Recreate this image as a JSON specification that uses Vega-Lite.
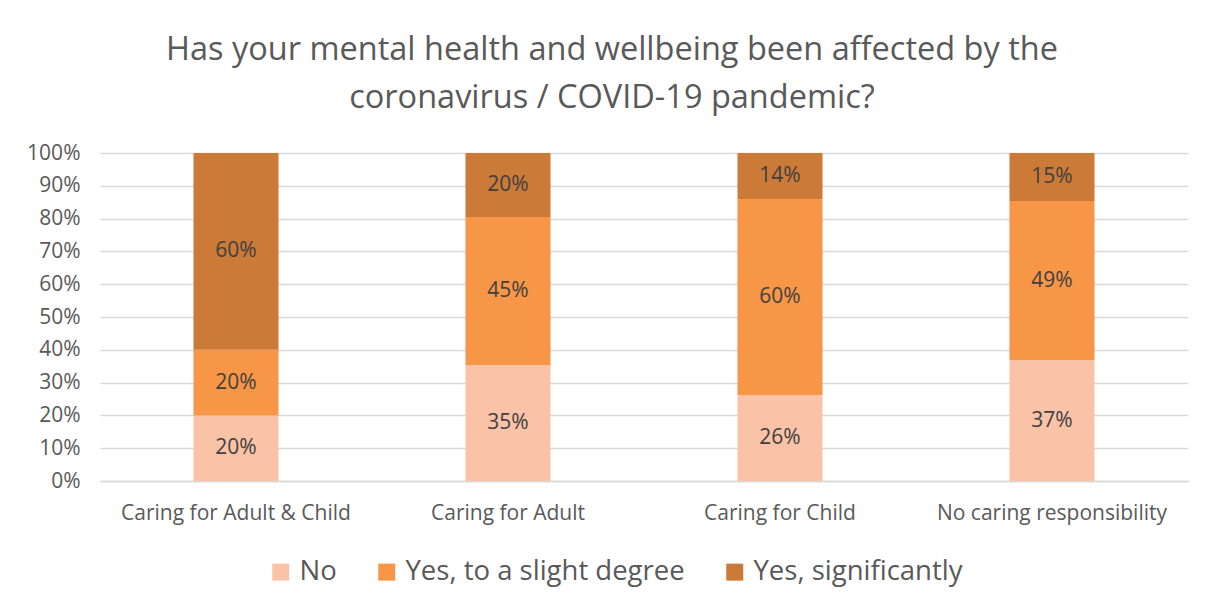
{
  "$schema": "https://vega.github.io/schema/vega-lite/v6.json",
  "width": 1088,
  "height": 328,
  "autosize": {"type": "none"},
  "padding": {"left": 100, "top": 153, "right": 25, "bottom": 129},
  "background": "white",
  "config": {"view": {"stroke": null}, "font": "Open Sans"},
  "title": {
    "text": ["Has your mental health and wellbeing been affected by the", "coronavirus / COVID-19 pandemic?"],
    "fontSize": 32.5,
    "font": "Open Sans",
    "fontWeight": "normal",
    "color": "#595959",
    "anchor": "middle",
    "dx": -32,
    "offset": 28,
    "lineHeight": 48
  },
  "data": {
    "values": [
      {"cat": "Caring for Adult & Child", "answer": "No", "rank": 1, "v": 0.20},
      {"cat": "Caring for Adult & Child", "answer": "Yes, to a slight degree", "rank": 2, "v": 0.20},
      {"cat": "Caring for Adult & Child", "answer": "Yes, significantly", "rank": 3, "v": 0.60},
      {"cat": "Caring for Adult", "answer": "No", "rank": 1, "v": 0.354},
      {"cat": "Caring for Adult", "answer": "Yes, to a slight degree", "rank": 2, "v": 0.451},
      {"cat": "Caring for Adult", "answer": "Yes, significantly", "rank": 3, "v": 0.195},
      {"cat": "Caring for Child", "answer": "No", "rank": 1, "v": 0.262},
      {"cat": "Caring for Child", "answer": "Yes, to a slight degree", "rank": 2, "v": 0.598},
      {"cat": "Caring for Child", "answer": "Yes, significantly", "rank": 3, "v": 0.140},
      {"cat": "No caring responsibility", "answer": "No", "rank": 1, "v": 0.368},
      {"cat": "No caring responsibility", "answer": "Yes, to a slight degree", "rank": 2, "v": 0.486},
      {"cat": "No caring responsibility", "answer": "Yes, significantly", "rank": 3, "v": 0.146}
    ]
  },
  "transform": [
    {"stack": "v", "groupby": ["cat"], "sort": [{"field": "rank", "order": "ascending"}], "as": ["v0", "v1"]}
  ],
  "encoding": {
    "x": {
      "field": "cat",
      "type": "nominal",
      "sort": ["Caring for Adult & Child", "Caring for Adult", "Caring for Child", "No caring responsibility"],
      "scale": {"paddingInner": 0.6875, "paddingOuter": 0.34375},
      "axis": {
        "title": null,
        "labelAngle": 0,
        "labelFontSize": 21,
        "labelColor": "#595959",
        "labelPadding": 21,
        "labelLimit": 400,
        "ticks": false,
        "domain": true,
        "domainColor": "#d9d9d9",
        "domainWidth": 1.5,
        "labelFont": "Open Sans"
      }
    }
  },
  "layer": [
    {
      "mark": {"type": "bar"},
      "encoding": {
        "y": {
          "field": "v0",
          "type": "quantitative",
          "scale": {"domain": [0, 1]},
          "axis": {
            "title": null,
            "values": [0, 0.1, 0.2, 0.3, 0.4, 0.5, 0.6, 0.7, 0.8, 0.9, 1],
            "format": ".0%",
            "grid": true,
            "gridColor": "#d9d9d9",
            "gridWidth": 1.5,
            "domain": false,
            "ticks": false,
            "labelOverlap": false,
            "labelFontSize": 21,
            "labelColor": "#595959",
            "labelPadding": 20,
            "labelFont": "Open Sans"
          }
        },
        "y2": {"field": "v1"},
        "color": {
          "field": "answer",
          "type": "nominal",
          "sort": ["No", "Yes, to a slight degree", "Yes, significantly"],
          "scale": {
            "domain": ["No", "Yes, to a slight degree", "Yes, significantly"],
            "range": ["#FAC3A8", "#F79646", "#CC7A38"]
          },
          "legend": {
            "title": null,
            "orient": "none",
            "direction": "horizontal",
            "legendX": 167,
            "legendY": 405,
            "symbolType": "square",
            "symbolSize": 289,
            "symbolStrokeWidth": 0,
            "labelFontSize": 27.5,
            "labelColor": "#595959",
            "labelFont": "Open Sans",
            "labelLimit": 500,
            "labelOffset": 5,
            "columnPadding": 36
          }
        }
      }
    },
    {
      "transform": [{"calculate": "(datum.v0 + datum.v1) / 2", "as": "vmid"}],
      "mark": {"type": "text", "fontSize": 21, "color": "#404040", "font": "Open Sans"},
      "encoding": {
        "y": {
          "field": "vmid",
          "type": "quantitative",
          "axis": {
            "title": null,
            "values": [0, 0.1, 0.2, 0.3, 0.4, 0.5, 0.6, 0.7, 0.8, 0.9, 1],
            "format": ".0%",
            "grid": true,
            "gridColor": "#d9d9d9",
            "gridWidth": 1.5,
            "domain": false,
            "ticks": false,
            "labelOverlap": false,
            "labelFontSize": 21,
            "labelColor": "#595959",
            "labelPadding": 20,
            "labelFont": "Open Sans"
          }
        },
        "text": {"field": "v", "type": "quantitative", "format": ".0%"}
      }
    }
  ]
}
